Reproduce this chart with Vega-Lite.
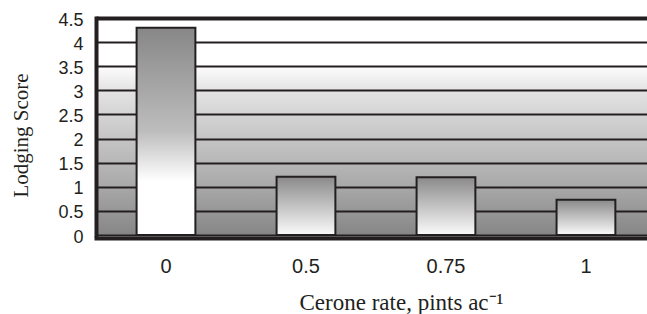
{
  "$schema": "https://vega.github.io/schema/vega-lite/v6.json",
  "width": 551,
  "height": 217,
  "autosize": {"type": "none"},
  "padding": {"left": 96, "top": 18, "right": 0, "bottom": 79},
  "background": "white",
  "view": {
    "stroke": null,
    "fill": {
      "gradient": "linear", "x1": 0, "y1": 1, "x2": 0, "y2": 0,
      "stops": [
        {"offset": 0, "color": "#868686"},
        {"offset": 0.22, "color": "#a8a8a8"},
        {"offset": 0.45, "color": "#c6c6c6"},
        {"offset": 0.67, "color": "#e4e4e4"},
        {"offset": 0.775, "color": "#fcfcfc"},
        {"offset": 0.78, "color": "#ffffff"},
        {"offset": 1, "color": "#ffffff"}
      ]
    }
  },
  "data": {
    "values": [
      {"rate": "0", "score": 4.3},
      {"rate": "0.5", "score": 1.21},
      {"rate": "0.75", "score": 1.2},
      {"rate": "1", "score": 0.73}
    ]
  },
  "encoding": {
    "x": {
      "field": "rate", "type": "nominal", "sort": null,
      "scale": {"domain": ["0", "0.5", "0.75", "1"], "paddingInner": 0.58, "paddingOuter": 0.258, "align": 0.562},
      "axis": {
        "title": "Cerone rate, pints ac⁻¹",
        "labelAngle": 0,
        "labelFont": "Liberation Sans", "labelFontSize": 20, "labelColor": "#231f20",
        "labelPadding": 18, "labelBaseline": "top",
        "ticks": false, "tickSize": 0,
        "domain": true, "domainColor": "#231f20", "domainWidth": 4, "domainCap": "square",
        "offset": 3,
        "grid": false,
        "titleFont": "Liberation Serif", "titleFontSize": 23, "titleFontWeight": "normal", "titleColor": "#231f20",
        "titleAnchor": null, "titleAlign": "center", "titleBaseline": "alphabetic",
        "titleX": 305, "titleY": 71
      }
    },
    "y": {
      "field": "score", "type": "quantitative",
      "scale": {"domain": [0, 4.5], "nice": false, "zero": true},
      "axis": {
        "title": "Lodging Score",
        "values": [0, 0.5, 1, 1.5, 2, 2.5, 3, 3.5, 4, 4.5],
        "labelExpr": "'' + datum.value",
        "labelFont": "Liberation Sans", "labelFontSize": 18, "labelColor": "#231f20",
        "labelPadding": 13, "labelOffset": 2,
        "ticks": false, "tickSize": 0,
        "domain": true, "domainColor": "#231f20", "domainWidth": 4, "domainCap": "square",
        "grid": true, "gridColor": "#231f20",
        "gridWidth": {"condition": {"test": "datum.value === 4.5", "value": 4}, "value": 2},
        "titleFont": "Liberation Serif", "titleFontSize": 21, "titleFontWeight": "normal", "titleColor": "#231f20",
        "titleAngle": -90, "titleAnchor": null, "titleAlign": "center", "titleBaseline": "alphabetic",
        "titleX": -69, "titleY": 117
      }
    }
  },
  "layer": [
    {
      "transform": [{"filter": "datum.score > 2"}],
      "mark": {
        "type": "bar", "stroke": "#231f20", "strokeWidth": 2,
        "color": {
          "gradient": "linear", "x1": 0, "y1": 0, "x2": 0, "y2": 1,
          "stops": [
            {"offset": 0, "color": "#878787"},
            {"offset": 0.5, "color": "#bdbdbd"},
            {"offset": 0.74, "color": "#ffffff"},
            {"offset": 1, "color": "#ffffff"}
          ]
        }
      }
    },
    {
      "transform": [{"filter": "datum.score <= 2"}],
      "mark": {
        "type": "bar", "stroke": "#231f20", "strokeWidth": 2,
        "color": {
          "gradient": "linear", "x1": 0, "y1": 0, "x2": 0, "y2": 1,
          "stops": [
            {"offset": 0, "color": "#8a8a8a"},
            {"offset": 1, "color": "#fbfbfb"}
          ]
        }
      }
    }
  ]
}
